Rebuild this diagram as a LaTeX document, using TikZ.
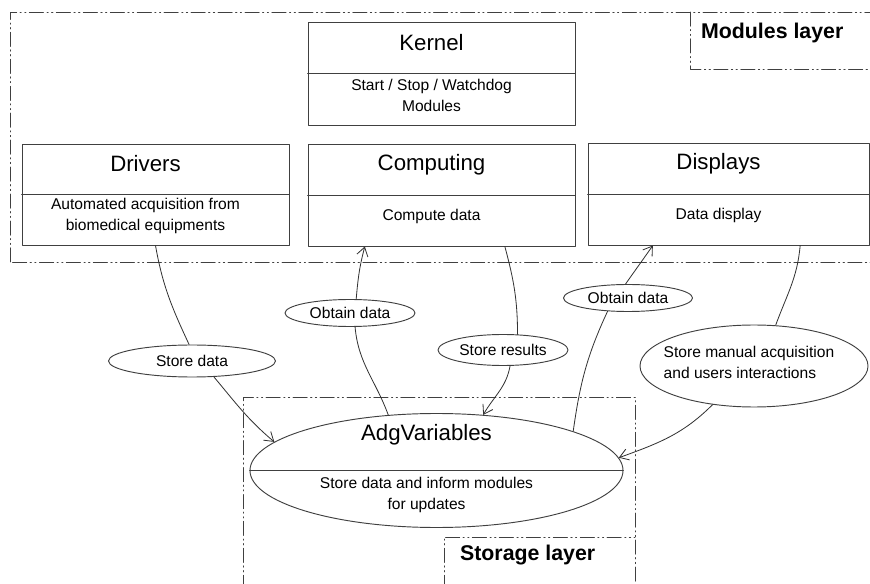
\documentclass[tikz,border=0pt]{standalone}
\usepackage{fontspec}
\setmainfont{Liberation Sans}
\usetikzlibrary{shapes.geometric, arrows.meta, calc}

\begin{document}
\begin{tikzpicture}[line join=round, line cap=round, >={Straight Barb[length=2.6mm, width=3.4mm]},
	box/.style={draw=black!75, line width=0.8pt, minimum width=8.01cm, inner sep=0pt},
	lbl/.style={draw=black!75, line width=0.8pt, ellipse, inner sep=1pt, font=\fontsize{13.3}{17}\selectfont},
	ttl/.style={font=\fontsize{19}{22}\selectfont, xshift=-0.3cm, yshift=0.15cm},
	txt/.style={font=\fontsize{13.3}{18}\selectfont, align=center, xshift=-0.3cm, yshift=0.12cm},
	layer/.style={draw=black!75, line width=0.8pt, dash pattern=on 12pt off 3pt on 1pt off 3pt on 1pt off 3pt},
	layertxt/.style={font=\fontsize{18.2}{22}\bfseries, anchor=west},
	link/.style={draw=black!80, line width=0.7pt}]
	\useasboundingbox (0,0) rectangle (26.1,17.49);
	% layers
	\draw[layer] (0.3,9.63) rectangle (27,17.13);
	\draw[layer] (20.7,17.13) -- (20.7,15.42) -- (27,15.42);
	\node[layertxt] (mlay) at (20.91,16.5) {Modules layer};
	\draw[layer] (7.29,-1) -- (7.29,5.58) -- (19.05,5.58) -- (19.05,-1);
	\draw[layer] (13.32,-1) -- (13.32,1.38) -- (19.05,1.38);
	\node[layertxt] (slay) at (13.68,0.84) {Storage layer};
	% modules
	\node[box, minimum height=3.09cm] (krn) at (13.245,15.285) {};
	\node[box, minimum height=3.03cm] (drv) at (4.665,11.655) {};
	\node[box, minimum height=3.06cm] (cmp) at (13.245,11.64) {};
	\node[box, minimum height=3.06cm, minimum width=8.43cm] (dsp) at (21.855,11.67) {};
	\foreach \m in {krn, drv, cmp, dsp}
		\draw[draw=black!75, line width=0.8pt] (\m.west) -- (\m.east);
	\node[ttl] (krnt) at ($(krn.center)!0.5!(krn.north)$) {Kernel};
	\node[txt] (krnd) at ($(krn.center)!0.5!(krn.south)$) {Start / Stop / Watchdog\\Modules};
	\node[ttl] (drvt) at ($(drv.center)!0.5!(drv.north)$) {Drivers};
	\node[txt] (drvd) at ($(drv.center)!0.5!(drv.south)$) {Automated acquisition from\\biomedical equipments};
	\node[ttl] (cmpt) at ($(cmp.center)!0.5!(cmp.north)$) {Computing};
	\node[txt] (cmpd) at ($(cmp.center)!0.5!(cmp.south)$) {Compute data};
	\node[ttl] (dspt) at ($(dsp.center)!0.5!(dsp.north)$) {Displays};
	\node[txt] (dspd) at ($(dsp.center)!0.5!(dsp.south)$) {Data display};
	% storage
	\node[draw=black!75, line width=0.8pt, ellipse, minimum width=11.19cm, minimum height=3.42cm] (adg) at (13.095,3.375) {};
	\draw[draw=black!75, line width=0.8pt] (adg.west) -- (adg.east);
	\node[ttl, yshift=0.05cm] (adgt) at ($(adg.center)!0.5!(adg.north)$) {AdgVariables};
	\node[txt] (adgd) at ($(adg.center)!0.5!(adg.south)$) {Store data and inform modules\\for updates};
	% labels
	\node[lbl, minimum width=3.9cm, minimum height=0.81cm] (od1) at (10.5,8.1) {Obtain data};
	\node[lbl, minimum width=5.01cm, minimum height=0.96cm] (sd) at (5.76,6.66) {Store data};
	\node[lbl, minimum width=3.9cm, minimum height=0.93cm] (sr) at (15.09,6.99) {Store results};
	\node[lbl, minimum width=3.87cm, minimum height=0.81cm] (od2) at (18.84,8.55) {Obtain data};
	\node[lbl, minimum width=6.84cm, minimum height=2.46cm] (sm) at (22.62,6.51) {};
	\node[txt, align=left, xshift=0.15cm] (smt) at (sm) {Store manual acquisition\\and users interactions};
	% links
	\draw[link] (drv.south) to[out=-80, in=115] (sd.100);
	\draw[link, ->] (sd.-36) to[out=-50, in=140] (adg.170);
	\draw[link] (adg.131) to[out=110, in=-85] (od1.-70);
	\draw[link, ->] (od1.66) to[out=85, in=-105] ([xshift=-2.3cm]cmp.south);
	\draw[link] ([xshift=1.9cm]cmp.south) to[out=-75, in=90] (sr.47);
	\draw[link, ->] (sr.-66) to[out=-100, in=60] (adg.50);
	\draw[link] (adg.16) to[out=82, in=-115] (od2.213);
	\draw[link, ->] (od2.100) to[out=55, in=-125] ([xshift=-2.27cm]dsp.south);
	\draw[link] ([xshift=2.15cm]dsp.south) to[out=-95, in=70] (sm.62);
	\draw[link, ->] (sm.223) to[out=-135, in=20] (adg.4);
\end{tikzpicture}
\end{document}
